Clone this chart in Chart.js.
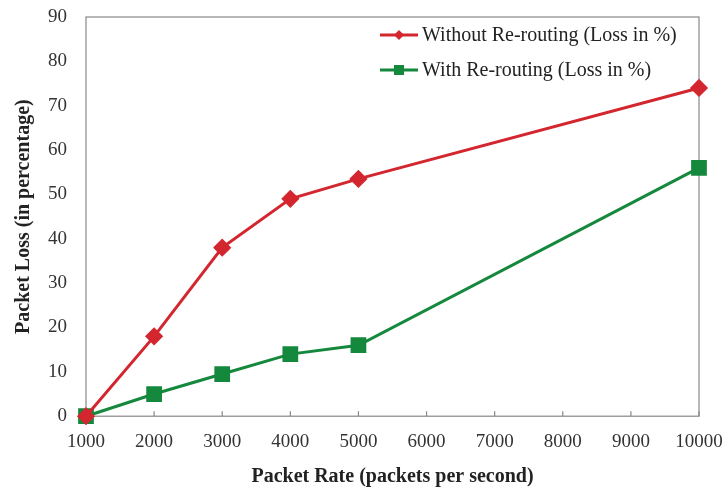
<!DOCTYPE html>
<html>
<head>
<meta charset="utf-8">
<script src="https://cdn.jsdelivr.net/npm/chart.js@4/dist/chart.umd.min.js"></script>
<style>
  html, body { margin: 0; padding: 0; background: #fff; }
  #wrap { width: 725px; height: 489px; }
</style>
</head>
<body>
<div id="wrap"><canvas id="myChart"></canvas></div>
<script>
// packet rates (x) and loss values
const rates = [1000, 2000, 3000, 4000, 5000, 10000];
const lossWithout = [0, 18, 38, 49, 53.5, 74];
const lossWith = [0, 5, 9.5, 14, 16, 56];
const seriesNames = ["Without Re-routing (Loss in %)", "With Re-routing (Loss in %)"];

const red = "#d3262e";
const green = "#14883c";
const serif = "'Liberation Serif', 'DejaVu Serif', serif";

// legend drawn inside the plot, top right
const innerLegend = {
  id: "innerLegend",
  afterDraw(chart) {
    const ctx = chart.ctx;
    const area = chart.chartArea;
    ctx.save();
    ctx.font = "20px " + serif;
    ctx.textBaseline = "middle";
    chart.data.datasets.forEach((ds, i) => {
      const y = area.top + 18 + i * 35;
      const x0 = area.right - 319;
      ctx.strokeStyle = ds.borderColor;
      ctx.lineWidth = 3;
      ctx.beginPath();
      ctx.moveTo(x0, y);
      ctx.lineTo(x0 + 38, y);
      ctx.stroke();
      ctx.fillStyle = ds.borderColor;
      const cx = x0 + 19;
      if (ds.pointStyle === "rectRot") {
        ctx.beginPath();
        ctx.moveTo(cx, y - 5); ctx.lineTo(cx + 5, y); ctx.lineTo(cx, y + 5); ctx.lineTo(cx - 5, y);
        ctx.closePath(); ctx.fill();
      } else {
        ctx.fillRect(cx - 5, y - 5, 10, 10);
      }
      ctx.fillStyle = "#222";
      ctx.fillText(ds.label, x0 + 42, y + 1);
    });
    ctx.restore();
  }
};

// box around plot + small inward tick marks on x axis
const frame = {
  id: "frame",
  beforeDatasetsDraw(chart) {
    const ctx = chart.ctx;
    const a = chart.chartArea;
    const xs = chart.scales.x;
    ctx.save();
    ctx.strokeStyle = "#888";
    ctx.lineWidth = 1.2;
    ctx.strokeRect(a.left, a.top, a.right - a.left, a.bottom - a.top);
    xs.ticks.forEach((t) => {
      const px = xs.getPixelForValue(t.value);
      ctx.beginPath();
      ctx.moveTo(px, a.bottom);
      ctx.lineTo(px, a.bottom - 5);
      ctx.stroke();
    });
    ctx.restore();
  }
};

const ctx2 = document.getElementById("myChart");
new Chart(ctx2, {
  type: "line",
  data: {
    datasets: [
      {
        label: seriesNames[0],
        data: rates.map((r, i) => ({ x: r, y: lossWithout[i] })),
        borderColor: red,
        backgroundColor: red,
        borderWidth: 3,
        pointStyle: "rectRot",
        pointRadius: 7,
        pointHoverRadius: 7,
        tension: 0,
        clip: false
      },
      {
        label: seriesNames[1],
        data: rates.map((r, i) => ({ x: r, y: lossWith[i] })),
        borderColor: green,
        backgroundColor: green,
        borderWidth: 3,
        pointStyle: "rect",
        pointRadius: 9,
        pointHoverRadius: 9,
        tension: 0,
        clip: false
      }
    ]
  },
  options: {
    responsive: true,
    maintainAspectRatio: false,
    animation: false,
    layout: { padding: { left: 6, right: 0, top: 0, bottom: 0 } },
    plugins: {
      legend: { display: false },
      tooltip: { enabled: false }
    },
    scales: {
      x: {
        type: "linear",
        min: 1000,
        max: 10000,
        afterFit: (s) => { s.paddingRight = 26; },
        ticks: {
          stepSize: 1000,
          color: "#333",
          font: { family: serif, size: 19 },
          padding: 6,
          maxRotation: 0,
          callback: (v) => String(v)
        },
        grid: { display: false },
        border: { display: false },
        title: {
          display: true,
          text: "Packet Rate (packets per second)",
          color: "#222",
          font: { family: serif, size: 20, weight: "bold" },
          padding: { top: 6, bottom: 0 }
        }
      },
      y: {
        min: 0,
        max: 90,
        afterFit: (s) => { s.paddingTop = 17; },
        ticks: {
          stepSize: 10,
          color: "#333",
          font: { family: serif, size: 19 },
          padding: 11
        },
        grid: { display: false },
        border: { display: false },
        title: {
          display: true,
          text: "Packet Loss (in percentage)",
          color: "#222",
          font: { family: serif, size: 20, weight: "bold" },
          padding: { top: 6, bottom: 1 }
        }
      }
    }
  },
  plugins: [frame, innerLegend]
});
</script>
</body>
</html>
